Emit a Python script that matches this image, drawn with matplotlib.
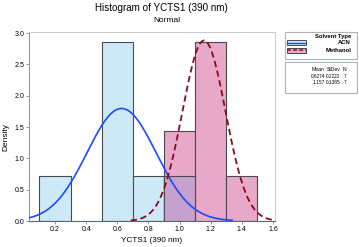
import numpy as np
import matplotlib
matplotlib.use("Agg")
import matplotlib.pyplot as plt
from matplotlib.patches import Rectangle
from matplotlib.lines import Line2D

# ---- data ----
bin_edges = [0.1, 0.3, 0.5, 0.7, 0.9, 1.1, 1.3, 1.5]
acn_density = [0.714, 0.0, 2.857, 0.714, 0.714, 0.0, 0.0]
meth_density = [0.0, 0.0, 0.0, 0.0, 1.429, 2.857, 0.714]
acn_mean, acn_sd, acn_n = 0.6274, 0.2222, 7
meth_mean, meth_sd, meth_n = 1.157, 0.1385, 7
xticks = [0.2, 0.4, 0.6, 0.8, 1.0, 1.2, 1.4, 1.6]
yticks = [0.0, 0.5, 1.0, 1.5, 2.0, 2.5, 3.0]

plt.rcParams['font.family'] = ['Liberation Sans', 'DejaVu Sans']

W, H = 359, 247
fig = plt.figure(figsize=(W / 100, H / 100), dpi=100, facecolor='white')

def fx(x):
    return x / W

def fy(y):
    return 1 - y / H

ax = fig.add_axes([fx(29), fy(221), fx(275) - fx(29), fy(32) - fy(221)])

edges = np.array(bin_edges)
lefts = edges[:-1]
widths = np.diff(edges)
acn = np.array(acn_density)
meth = np.array(meth_density)
overlap = np.minimum(acn, meth)

blue_fill = '#cde9f7'
pink_fill = '#e8a8c9'
purple_fill = '#c6a1cd'
edgec = '#4a4a4a'

mask = acn > 0
ax.bar(lefts[mask], acn[mask], width=widths[mask], align='edge',
       color=blue_fill, edgecolor=edgec, linewidth=0.8, zorder=2)
mask = meth > 0
ax.bar(lefts[mask], meth[mask], width=widths[mask], align='edge',
       color=pink_fill, edgecolor=edgec, linewidth=0.8, zorder=2)
mask = overlap > 0
ax.bar(lefts[mask], overlap[mask], width=widths[mask], align='edge',
       color=purple_fill, edgecolor=edgec, linewidth=0.8, zorder=2)

def npdf(x, m, s):
    return np.exp(-0.5 * ((x - m) / s) ** 2) / (s * np.sqrt(2 * np.pi))

xa = np.linspace(acn_mean - 4 * acn_sd, acn_mean + 3.2 * acn_sd, 500)
xm = np.linspace(meth_mean - 3.4 * meth_sd, meth_mean + 4 * meth_sd, 500)
ax.plot(xa, npdf(xa, acn_mean, acn_sd), color='#1a4cff', lw=1.2, zorder=3)
ax.plot(xm, npdf(xm, meth_mean, meth_sd), color='#8b0a1e', lw=1.3,
        dashes=(3.5, 2), zorder=3)

ax.set_xlim(0.033, 1.613)
ax.set_ylim(0, 3.016)
ax.set_xticks(xticks)
ax.set_xticklabels([f'{v:.1f}' for v in xticks])
ax.set_yticks(yticks)
ax.set_yticklabels([f'{v:.1f}' for v in yticks])
ax.tick_params(labelsize=5.0, length=2, width=0.6, color='#7a8a96', pad=1.5)
for s in ax.spines.values():
    s.set_color('#c5ced6')
    s.set_linewidth(0.8)
ax.spines['left'].set_color('#8a9aa6')
ax.spines['bottom'].set_color('#5a6670')

fig.text(fx(161), fy(8), 'Histogram of YCTS1 (390 nm)', ha='center', va='center', fontsize=7.1)
fig.text(fx(167), fy(21), 'Normal', ha='center', va='center', fontsize=6.0)
fig.text(fx(152), fy(240), 'YCTS1 (390 nm)', ha='center', va='center', fontsize=5.9)
fig.text(fx(6), fy(137), 'Density', ha='center', va='center', rotation=90, fontsize=6.0)

# legend boxes
for (y0, y1) in [(32, 59), (62, 93)]:
    fig.patches.append(Rectangle((fx(285), fy(y1)), fx(357) - fx(285), fy(y0) - fy(y1),
                                 transform=fig.transFigure, facecolor='white',
                                 edgecolor='#aab4bc', linewidth=0.8))

hfs = 4.2
sfs = 3.7
nfs = 3.45
fig.text(fx(351), fy(36), 'Solvent Type', ha='right', va='center', fontsize=hfs, fontweight='bold')
fig.text(fx(351), fy(43), 'ACN', ha='right', va='center', fontsize=hfs, fontweight='bold')
fig.text(fx(351), fy(50), 'Methanol', ha='right', va='center', fontsize=hfs, fontweight='bold')

fig.patches.append(Rectangle((fx(287), fy(45.5)), fx(306) - fx(287), fy(40.5) - fy(45.5),
                             transform=fig.transFigure, facecolor=blue_fill,
                             edgecolor='#333333', linewidth=0.6))
fig.lines.append(Line2D([fx(287), fx(306)], [fy(43), fy(43)], transform=fig.transFigure,
                        color='#1a4cff', lw=1.0))
fig.patches.append(Rectangle((fx(287), fy(53)), fx(306) - fx(287), fy(48) - fy(53),
                             transform=fig.transFigure, facecolor=pink_fill,
                             edgecolor='#333333', linewidth=0.6))
fig.lines.append(Line2D([fx(287), fx(306)], [fy(50.5), fy(50.5)], transform=fig.transFigure,
                        color='#8b0a1e', lw=1.1, dashes=(2.5, 1.5)))

fig.text(fx(325), fy(69), 'Mean', ha='right', va='center', fontsize=sfs)
fig.text(fx(340.5), fy(69), 'StDev', ha='right', va='center', fontsize=sfs)
fig.text(fx(346.5), fy(69), 'N', ha='right', va='center', fontsize=sfs)
for yy, (m, s, n) in zip([76, 82.5], [(acn_mean, acn_sd, acn_n), (meth_mean, meth_sd, meth_n)]):
    fig.text(fx(325), fy(yy), f'{m:g}', ha='right', va='center', fontsize=nfs)
    fig.text(fx(340.5), fy(yy), f'{s:g}', ha='right', va='center', fontsize=nfs)
    fig.text(fx(346.5), fy(yy), f'{n}', ha='right', va='center', fontsize=nfs)

fig.savefig('out.png', dpi=100, facecolor='white')
